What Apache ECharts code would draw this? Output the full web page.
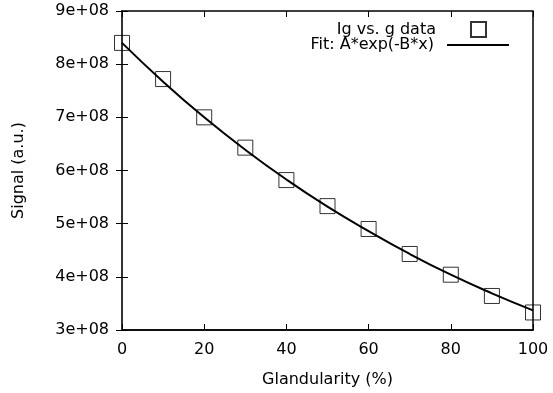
<!DOCTYPE html>
<html><head><meta charset="utf-8">
<script src="https://cdn.jsdelivr.net/npm/echarts@6/dist/echarts.min.js"></script>
<style>html,body{margin:0;padding:0;background:#fff}#c{width:553px;height:393px}</style>
</head><body><div id="c"></div>
<script>
var glandularity = [0, 10, 20, 30, 40, 50, 60, 70, 80, 90, 100];
var signalData = [8.40e8, 7.72e8, 7.00e8, 6.43e8, 5.82e8, 5.33e8, 4.90e8, 4.43e8, 4.04e8, 3.64e8, 3.33e8];
var fitX = [0, 10, 20, 30, 40, 50, 60, 70, 80, 90, 100];
var fitY = [8.40e8, 7.67e8, 7.00e8, 6.39e8, 5.83e8, 5.32e8, 4.86e8, 4.43e8, 4.04e8, 3.69e8, 3.37e8];
var seriesNames = ['Ig vs. g data', 'Fit: A*exp(-B*x)'];
var xTitle = 'Glandularity (%)';
var yTitle = 'Signal (a.u.)';

var font = 'DejaVu Sans, Liberation Sans, Arial, sans-serif';
var fs = 16;
var chart = echarts.init(document.getElementById('c'));
function pairs(xs, ys){ return xs.map(function(x,i){return [x, ys[i]];}); }
var tickStyle = {show:true, inside:true, length:6, lineStyle:{color:'#000', width:1}};
chart.setOption({
  animation:false,
  backgroundColor:'#fff',
  textStyle:{fontFamily:font},
  grid:{left:122, right:20, top:11, bottom:63, show:true, borderColor:'#000', borderWidth:1.5, backgroundColor:'transparent'},
  legend:[
    {data:[seriesNames[0]], orient:'vertical', right:61, top:16, itemWidth:15, itemHeight:15, align:'right',
     textStyle:{fontFamily:font, fontSize:fs, color:'#000', padding:[0,30,0,0]}},
    {data:[seriesNames[1]], orient:'vertical', right:38, top:32, itemWidth:62, itemHeight:2, align:'right',
     lineStyle:{width:2, color:'#000'},
     textStyle:{fontFamily:font, fontSize:fs, color:'#000', padding:[0,8,0,0]}}
  ],
  xAxis:[
    {type:'value', min:0, max:100, interval:20, position:'bottom',
     name:xTitle, nameLocation:'middle', nameGap:42, nameTextStyle:{fontFamily:font, fontSize:fs, color:'#000'},
     axisLine:{show:true, lineStyle:{color:'#000', width:1.5}}, axisTick:tickStyle,
     axisLabel:{fontFamily:font, fontSize:fs, color:'#000', margin:12}, splitLine:{show:false}},
    {type:'value', min:0, max:100, interval:20, position:'top',
     axisLine:{show:false}, axisTick:tickStyle, axisLabel:{show:false}, splitLine:{show:false}}
  ],
  yAxis:[
    {type:'value', min:3e8, max:9e8, interval:1e8, position:'left',
     name:yTitle, nameLocation:'middle', nameGap:95, nameTextStyle:{fontFamily:font, fontSize:fs, color:'#000'},
     axisLine:{show:true, lineStyle:{color:'#333', width:2}}, axisTick:tickStyle,
     axisLabel:{fontFamily:font, fontSize:fs, color:'#000', margin:13, formatter:function(v){return Math.round(v/1e8)+'e+08';}},
     splitLine:{show:false}},
    {type:'value', min:3e8, max:9e8, interval:1e8, position:'right',
     axisLine:{show:false}, axisTick:tickStyle, axisLabel:{show:false}, splitLine:{show:false}}
  ],
  series:[
    {name:seriesNames[1], type:'line', data:pairs(fitX, fitY), smooth:true, showSymbol:false, symbol:'none',
     lineStyle:{color:'#000', width:2}, itemStyle:{color:'#000'}, z:2},
    {name:seriesNames[0], type:'scatter', data:pairs(glandularity, signalData), symbol:'rect', symbolSize:15,
     itemStyle:{color:'rgba(255,255,255,0)', borderColor:'#000', borderWidth:1}, z:3}
  ]
});
</script></body></html>
